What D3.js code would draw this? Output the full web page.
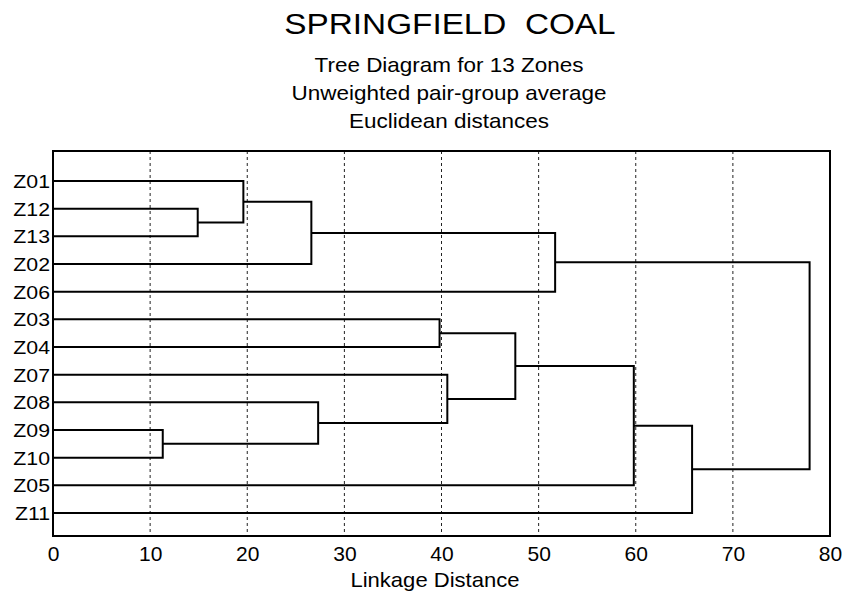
<!DOCTYPE html>
<html>
<head>
<meta charset="utf-8">
<script src="https://cdn.jsdelivr.net/npm/d3@7"></script>
<style>
  html, body { margin: 0; padding: 0; background: #fff; }
  svg { display: block; font-family: "Liberation Sans", Arial, sans-serif; }
</style>
</head>
<body>
<svg id="chart" width="847" height="593"></svg>
<script>
// ---- data ----
const titleText = "SPRINGFIELD\u00A0\u00A0COAL";
const subtitleLines = ["Tree Diagram for 13 Zones", "Unweighted pair-group average", "Euclidean distances"];
const xAxisTitle = "Linkage Distance";
const leaves = ["Z01", "Z12", "Z13", "Z02", "Z06", "Z03", "Z04", "Z07", "Z08", "Z09", "Z10", "Z05", "Z11"];
// merges: [id, childA, childB, linkage distance]
const mergeIds = ["c1", "c2", "c3", "c4", "c5", "c6", "c7", "c8", "c9", "c10", "c11", "c12"];
const mergeLeft = ["Z12", "Z01", "c2", "c3", "Z03", "Z09", "Z08", "Z07", "c5", "c9", "c10", "c4"];
const mergeRight = ["Z13", "c1", "Z02", "Z06", "Z04", "Z10", "c6", "c7", "c8", "Z05", "Z11", "c11"];
const mergeHeight = [14.9, 19.6, 26.6, 51.7, 39.8, 11.3, 27.3, 40.6, 47.6, 59.8, 65.8, 77.9];
const xTicks = [0, 10, 20, 30, 40, 50, 60, 70, 80];

// ---- layout ----
const svg = d3.select("#chart");
const plot = { left: 53, right: 830, top: 151, bottom: 536 };

const x = d3.scaleLinear().domain([0, 80]).range([plot.left, plot.right]);
const y = d3.scalePoint().domain(leaves).range([181, 513]);

// widen glyphs horizontally (reference typeface is a little wider than Liberation Sans)
function stretch(sel, factor) {
  sel.each(function () {
    const w = this.getComputedTextLength();
    d3.select(this).attr("textLength", w * factor).attr("lengthAdjust", "spacingAndGlyphs");
  });
}

// background
svg.append("rect").attr("width", 847).attr("height", 593).attr("fill", "#fff");

// titles
svg.append("text").attr("x", 450).attr("y", 34).attr("text-anchor", "middle")
  .attr("font-size", 30).attr("fill", "#000").text(titleText)
  .call(stretch, 1.11);
const subY = [72, 100, 128];
subtitleLines.forEach((t, i) => {
  svg.append("text").attr("x", 449).attr("y", subY[i]).attr("text-anchor", "middle")
    .attr("font-size", 21).attr("fill", "#000").text(t)
    .call(stretch, 1.07);
});

// grid lines
svg.append("g").selectAll("line").data(xTicks.filter(d => d > 0 && d < 80)).join("line")
  .attr("x1", d => x(d)).attr("x2", d => x(d))
  .attr("y1", plot.top).attr("y2", plot.bottom)
  .attr("stroke", "#222").attr("stroke-width", 1).attr("stroke-dasharray", "3,3");

// dendrogram
const pos = {};
leaves.forEach(l => { pos[l] = { h: 0, y: y(l) }; });
const g = svg.append("g").attr("fill", "none").attr("stroke", "#000").attr("stroke-width", 2);
mergeIds.forEach((id, i) => {
  const a = pos[mergeLeft[i]], b = pos[mergeRight[i]];
  const h = mergeHeight[i];
  const ym = (a.y + b.y) / 2;
  pos[id] = { h: h, y: ym };
  const path = d3.path();
  path.moveTo(x(a.h), a.y);
  path.lineTo(x(h), a.y);
  path.lineTo(x(h), b.y);
  path.lineTo(x(b.h), b.y);
  g.append("path").attr("d", path.toString());
});

// frame
svg.append("rect").attr("x", plot.left).attr("y", plot.top)
  .attr("width", plot.right - plot.left).attr("height", plot.bottom - plot.top)
  .attr("fill", "none").attr("stroke", "#000").attr("stroke-width", 2);

// y labels
svg.append("g").selectAll("text").data(leaves).join("text")
  .attr("x", 50).attr("y", d => y(d)).attr("dy", "0.36em")
  .attr("text-anchor", "end").attr("font-size", 19).attr("fill", "#000")
  .text(d => d)
  .call(stretch, 1.12);

// x axis
const xAxis = d3.axisBottom(x).tickValues(xTicks).tickSize(0).tickPadding(0).tickFormat(d3.format("d"));
const ax = svg.append("g").attr("transform", `translate(0,${plot.bottom})`).call(xAxis);
ax.select(".domain").remove();
ax.selectAll("text").attr("font-size", 21).attr("fill", "#000")
  .attr("font-family", "Liberation Sans, Arial, sans-serif")
  .attr("y", 25).attr("dy", 0);

svg.append("text").attr("x", 435).attr("y", 587).attr("text-anchor", "middle")
  .attr("font-size", 21).attr("fill", "#000").text(xAxisTitle)
  .call(stretch, 1.05);
</script>
</body>
</html>
